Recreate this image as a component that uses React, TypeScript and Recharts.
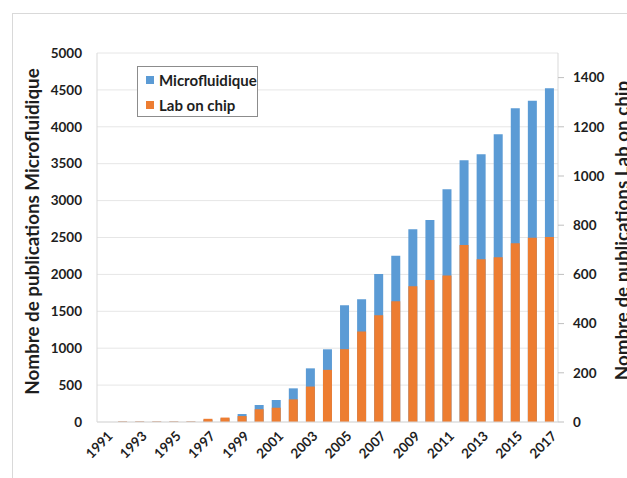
import React from 'react';
import { ComposedChart, Bar, XAxis, YAxis, CartesianGrid } from 'recharts';

const years = [
  '1991', '1992', '1993', '1994', '1995', '1996', '1997', '1998', '1999', '2000',
  '2001', '2002', '2003', '2004', '2005', '2006', '2007', '2008', '2009', '2010',
  '2011', '2012', '2013', '2014', '2015', '2016', '2017',
];
const microfluidique = [
  0, 5, 5, 5, 5, 5, 30, 50, 108, 230, 298, 456, 727, 985, 1581, 1663, 2005, 2254,
  2611, 2737, 3153, 3546, 3627, 3898, 4250, 4354, 4521,
];
const labOnChip = [
  0, 2, 2, 2, 2, 2, 13, 18, 24, 52, 58, 92, 144, 212, 296, 368, 434, 491, 552, 577,
  596, 720, 662, 670, 727, 749, 752,
];
const leftTicks = [0, 500, 1000, 1500, 2000, 2500, 3000, 3500, 4000, 4500, 5000];
const rightTicks = [0, 200, 400, 600, 800, 1000, 1200, 1400];

const BLUE = '#5B9BD5';
const ORANGE = '#ED7D31';
const FONT = 'Lato, "Open Sans", sans-serif';
const TEXT = '#1e1e1e';

const data = years.map((y, i) => ({
  year: y,
  micro: microfluidique[i],
  lab: labOnChip[i],
}));

const legendItems = [
  { name: 'Microfluidique', color: BLUE },
  { name: 'Lab on chip', color: ORANGE },
];

const XTick = (props: any) => {
  const { x, y, payload } = props;
  const ax = x + 8;
  const ay = y + 15;
  return (
    <text
      x={ax}
      y={ay}
      transform={`rotate(-45, ${ax}, ${ay})`}
      textAnchor="end"
      fontFamily={FONT}
      fontSize={13.5}
      fontWeight={700}
      fill={TEXT}
    >
      {payload.value}
    </text>
  );
};

const LeftTitle = (props: any) => {
  const vb = props.viewBox || { x: 0, y: 53, width: 97, height: 369 };
  const cx = vb.x + 39;
  const cy = vb.y + vb.height / 2 - 6;
  return (
    <text
      x={cx}
      y={cy}
      transform={`rotate(-90, ${cx}, ${cy})`}
      textAnchor="middle"
      fontFamily={FONT}
      fontSize={18.8}
      fontWeight={700}
      fill={TEXT}
    >
      Nombre de publications Microfluidique
    </text>
  );
};

const RightTitle = (props: any) => {
  const vb = props.viewBox || { x: 558, y: 53, width: 69, height: 369 };
  const cx = vb.x + 71;
  const cy = vb.y + vb.height / 2 - 7;
  return (
    <text
      x={cx}
      y={cy}
      transform={`rotate(-90, ${cx}, ${cy})`}
      textAnchor="middle"
      fontFamily={FONT}
      fontSize={18.8}
      fontWeight={700}
      fill={TEXT}
    >
      Nombre de publications Lab on chip
    </text>
  );
};

export default function App() {
  return (
    <div
      style={{
        position: 'fixed',
        left: 0,
        top: 0,
        width: 627,
        height: 478,
        overflow: 'hidden',
        background: '#fff',
      }}
    >
      <div
        style={{
          position: 'absolute',
          left: 12,
          top: 13,
          width: 700,
          height: 600,
          border: '1px solid #d9d9d9',
        }}
      />
      <div style={{ position: 'absolute', left: 0, top: 0 }}>
        <ComposedChart
          width={627}
          height={478}
          data={data}
          margin={{ top: 53, right: 0, bottom: 0, left: 0 }}
          barGap={-9}
          barCategoryGap={0}
        >
          <CartesianGrid
            yAxisId="left"
            vertical={false}
            stroke="#e6e6e6"
            strokeWidth={1}
          />
          <XAxis
            dataKey="year"
            height={56}
            interval={1}
            tickLine={false}
            tickSize={0}
            tickMargin={0}
            axisLine={{ stroke: '#d9d9d9' }}
            tick={<XTick />}
          />
          <YAxis
            yAxisId="left"
            orientation="left"
            width={97}
            domain={[0, 5000]}
            ticks={leftTicks}
            interval={0}
            tickLine={false}
            tickSize={6}
            tickMargin={9}
            axisLine={{ stroke: '#d9d9d9' }}
            tick={{ fontFamily: FONT, fontSize: 13.5, fontWeight: 700, fill: TEXT }}
            label={<LeftTitle />}
          />
          <YAxis
            yAxisId="right"
            orientation="right"
            width={69}
            domain={[0, 1500]}
            ticks={rightTicks}
            interval={0}
            tickLine={{ stroke: '#bfbfbf' }}
            tickSize={6}
            tickMargin={9}
            axisLine={{ stroke: '#d9d9d9' }}
            tick={{ fontFamily: FONT, fontSize: 13.5, fontWeight: 700, fill: TEXT }}
            label={<RightTitle />}
          />
          <Bar
            yAxisId="left"
            dataKey="micro"
            name="Microfluidique"
            fill={BLUE}
            barSize={9}
            isAnimationActive={false}
          />
          <Bar
            yAxisId="right"
            dataKey="lab"
            name="Lab on chip"
            fill={ORANGE}
            barSize={9}
            isAnimationActive={false}
          />
        </ComposedChart>
      </div>
      <div
        style={{
          position: 'absolute',
          left: 137,
          top: 66,
          width: 119,
          height: 49,
          border: '1px solid #8c8c8c',
          background: '#fff',
          fontFamily: FONT,
          fontWeight: 700,
          fontSize: 15,
          color: TEXT,
          boxSizing: 'content-box',
        }}
      >
        {legendItems.map((it, i) => (
          <div
            key={it.name}
            style={{
              position: 'absolute',
              left: 8,
              top: 3 + i * 25,
              height: 20,
              display: 'flex',
              alignItems: 'center',
              whiteSpace: 'nowrap',
            }}
          >
            <span
              style={{
                display: 'inline-block',
                width: 8,
                height: 8,
                background: it.color,
                marginRight: 5,
              }}
            />
            <span>{it.name}</span>
          </div>
        ))}
      </div>
    </div>
  );
}
